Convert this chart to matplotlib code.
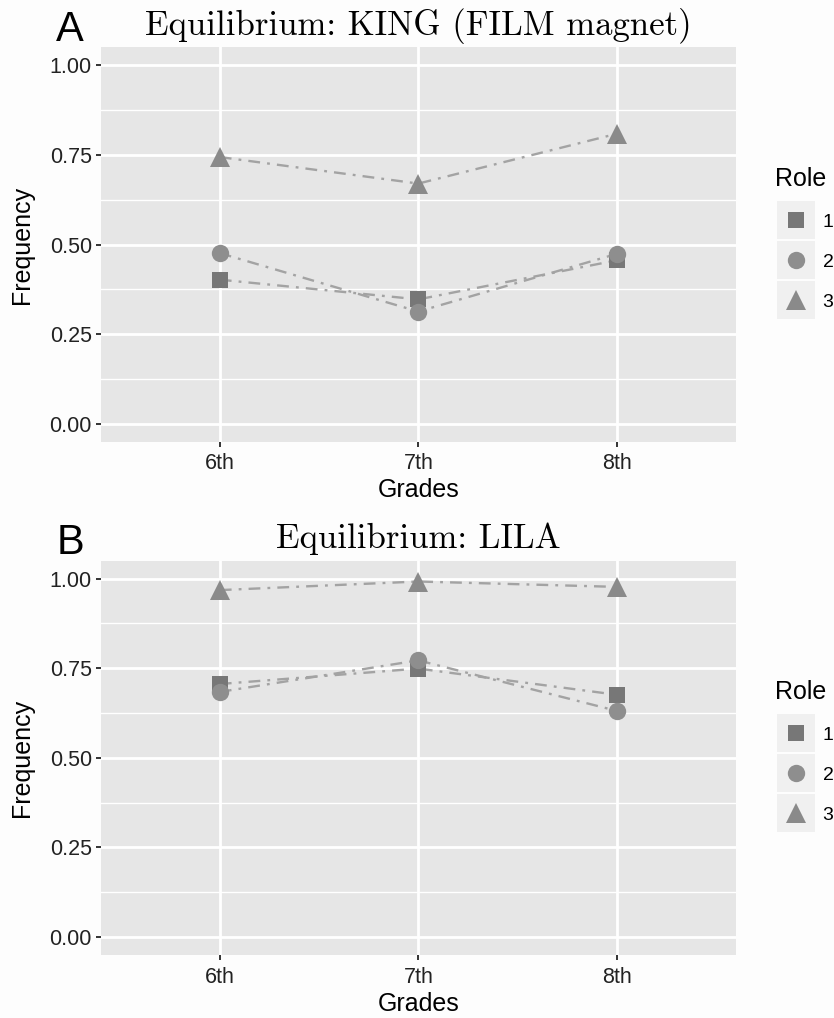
import matplotlib as mpl
import matplotlib.pyplot as plt
from matplotlib.lines import Line2D

mpl.use('Agg')

# Data
grades = ['6th', '7th', '8th']
roles = ['1', '2', '3']
king_role1 = [0.402, 0.347, 0.456]
king_role2 = [0.476, 0.313, 0.474]
king_role3 = [0.744, 0.670, 0.809]
lila_role1 = [0.706, 0.749, 0.676]
lila_role2 = [0.684, 0.772, 0.631]
lila_role3 = [0.968, 0.992, 0.977]

panels = [
    ('A', 'Equilibrium: KING (FILM magnet)', [king_role1, king_role2, king_role3]),
    ('B', 'Equilibrium: LILA', [lila_role1, lila_role2, lila_role3]),
]

markers = ['s', 'o', '^']
marker_sizes = [12, 12.5, 14.5]
marker_colors = ['#777777', '#8e8e8e', '#8a8a8a']
line_color = '#a3a3a3'
panel_bg = '#e6e6e6'
sans = ['Liberation Sans', 'DejaVu Sans']

fig = plt.figure(figsize=(8.34, 10.18), dpi=100, facecolor='#fdfdfd')
boxes = [[0.1207, 0.5661, 0.7618, 0.3874], [0.1207, 0.0619, 0.7618, 0.3873]]

for (letter, title, series), box in zip(panels, boxes):
    ax = fig.add_axes(box)
    ax.set_facecolor(panel_bg)
    x = range(1, len(grades) + 1)
    for vals, m, ms, c in zip(series, markers, marker_sizes, marker_colors):
        ax.plot(x, vals, linestyle='-.', color=line_color, linewidth=1.7, zorder=3,
                dashes=(5, 3, 1.2, 3))
        ax.plot(x, vals, linestyle='none', marker=m, markersize=ms, color=c,
                markeredgewidth=0, zorder=4)
    ax.set_xlim(0.4, 3.6)
    ax.set_ylim(-0.05, 1.05)
    ax.set_xticks(list(x))
    ax.set_xticklabels(grades)
    ax.set_yticks([0, 0.25, 0.5, 0.75, 1.0])
    ax.set_yticklabels(['0.00', '0.25', '0.50', '0.75', '1.00'])
    ax.set_yticks([0.125, 0.375, 0.625, 0.875], minor=True)
    ax.grid(True, which='major', color='white', linewidth=2.0, zorder=0)
    ax.grid(True, which='minor', axis='y', color='white', linewidth=1.0, zorder=0)
    ax.set_axisbelow(True)
    for s in ax.spines.values():
        s.set_visible(False)
    ax.tick_params(axis='both', which='major', length=3.8, width=1.4, color='#333333',
                   labelsize=15.5, labelcolor='#222222')
    ax.tick_params(axis='x', pad=4.5)
    ax.tick_params(axis='y', pad=2.5)
    ax.tick_params(axis='y', which='minor', length=0)
    for lab in ax.get_xticklabels() + ax.get_yticklabels():
        lab.set_family(sans)
    ax.set_xlabel('Grades', fontsize=18, family=sans, labelpad=3)
    ax.set_ylabel('Frequency', fontsize=18, family=sans, labelpad=11)
    ax.set_title(title, fontsize=25, family='cmr10', pad=9)
    ax.text(-0.048, 1.0165, letter, transform=ax.transAxes, fontsize=30,
            family=sans, ha='center', va='baseline')

    # legend with grey key backgrounds
    handles = []
    for m, ms, c in zip(markers, marker_sizes, marker_colors):
        bg = Line2D([], [], linestyle='none', marker='s', markersize=28,
                    color='#f0f0f0', markeredgewidth=0)
        mk = Line2D([], [], linestyle='none', marker=m, markersize=ms,
                    color=c, markeredgewidth=0)
        handles.append((bg, mk))
    leg = ax.legend(handles, roles, title='Role', loc='center left',
                    bbox_to_anchor=(1.061, 0.515), frameon=False,
                    prop={'family': sans, 'size': 14}, handlelength=2.2,
                    handletextpad=0.26, labelspacing=1.15, borderaxespad=0,
                    borderpad=0)
    leg.get_title().set_fontsize(18)
    leg.get_title().set_family(sans)
    leg._legend_box.align = 'left'

fig.savefig('out.png', dpi=100, facecolor=fig.get_facecolor())
